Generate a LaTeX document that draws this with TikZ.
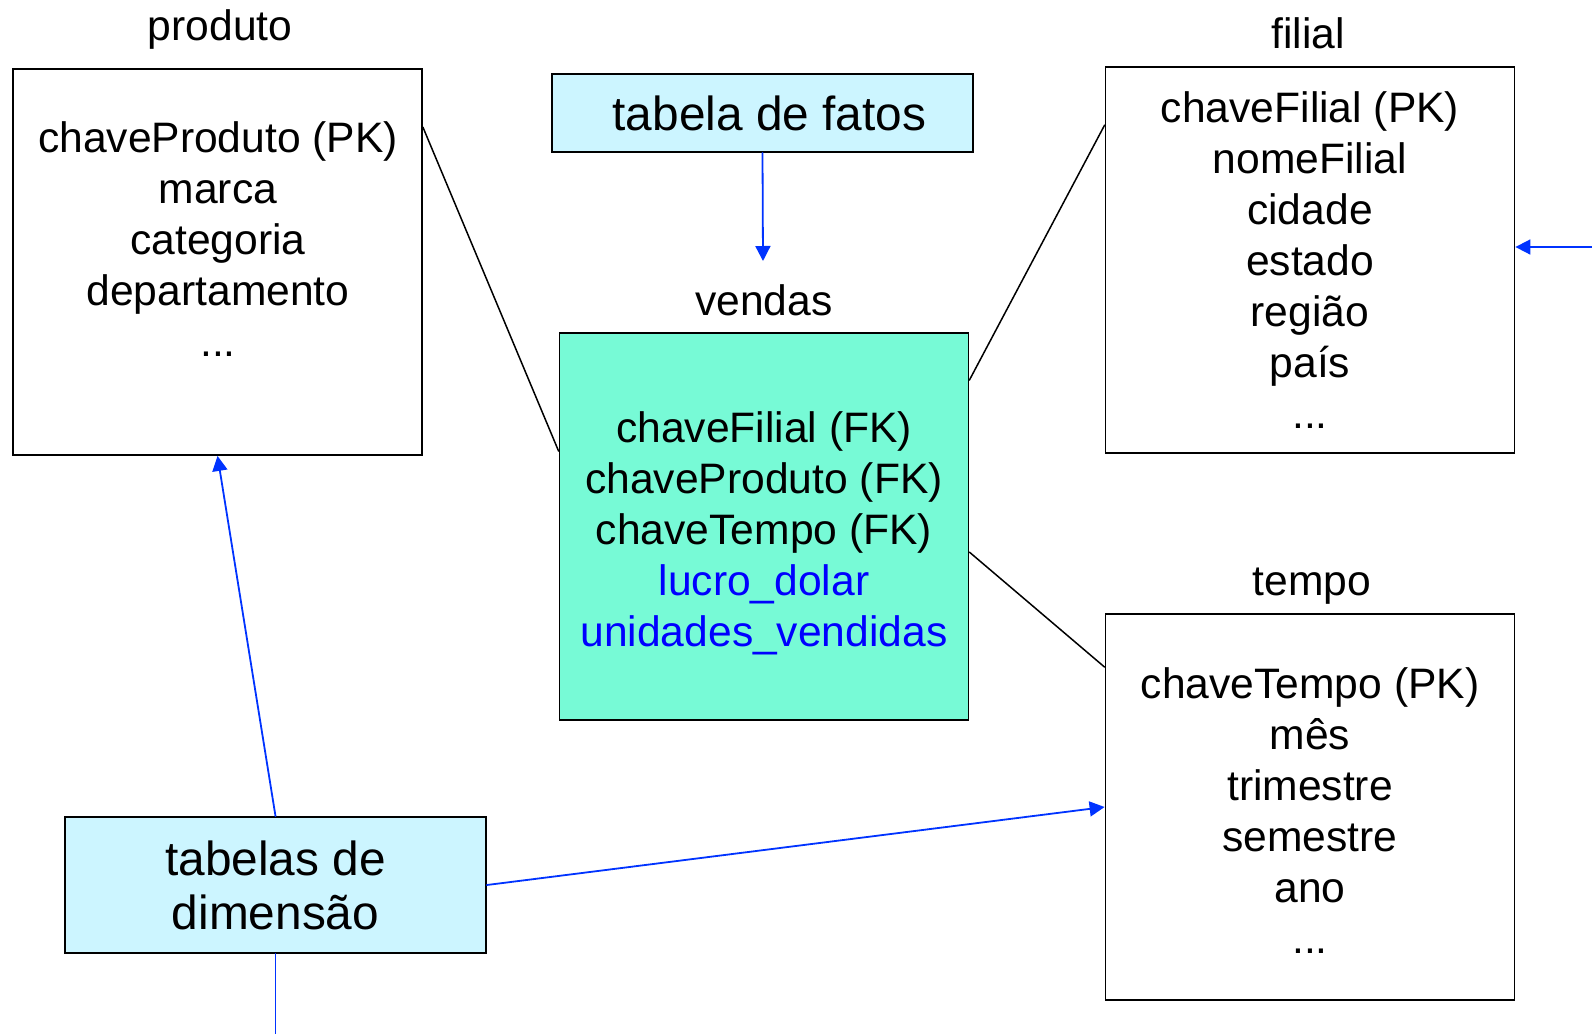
\documentclass[tikz,border=0pt]{standalone}
\usepackage{fontspec}
\setmainfont{Liberation Sans}
\usetikzlibrary{arrows.meta,calc}

\begin{document}
\begin{tikzpicture}[x=0.5pt,y=-0.5pt,line cap=round]
  % Colors
  \definecolor{notecyan}{RGB}{204,245,255}
  \definecolor{factgreen}{RGB}{119,250,214}
  \definecolor{linkblue}{RGB}{0,51,255}

  % Styles
  \tikzstyle{table box}=[draw,line width=0.9pt,inner sep=0pt,minimum width=204.5pt,minimum height=193pt]
  \tikzstyle{note box}=[draw,line width=0.9pt,fill=notecyan,inner sep=0pt,minimum width=210.5pt,
    font=\fontsize{23.9}{27}\selectfont,align=center]
  \tikzstyle{table title}=[font=\fontsize{21.3}{25.5}\selectfont]
  \tikzstyle{table text}=[font=\fontsize{21.3}{25.5}\selectfont,align=center,anchor=base,inner sep=0pt]
  \tikzstyle{plain link}=[line width=0.75pt]
  \tikzstyle{blue link}=[line width=0.9pt,draw=linkblue,-{Triangle[length=7.5pt,width=7.5pt]}]

  \useasboundingbox (0,0) rectangle (1592,1034);

  % The graphic (text blocks sit on the baseline of their last line)
  \node[table box] (produto) at (217.5,262) {};
  \node[table title] (produtoTitle) at (220,29) {produto};
  \node[table text] (produtoText) at (218,356)
    {chaveProduto (PK)\\marca\\categoria\\departamento\\...};

  \node[note box,minimum height=39pt] (fatos) at (762.5,113) {\hspace*{7pt}tabela de fatos};

  \node[table box,fill=factgreen,minimum height=193.5pt] (vendas) at (764,526.5) {};
  \node[table title] (vendasTitle) at (764,300) {vendas};
  \node[table text] (vendasText) at (764,646)
    {chaveFilial (FK)\\chaveProduto (FK)\\chaveTempo (FK)\\
     \textcolor{blue}{lucro\_dolar}\\\textcolor{blue}{unidades\_vendidas}};

  \node[table box] (filial) at (1310,260) {};
  \node[table title] (filialTitle) at (1308,33) {filial};
  \node[table text] (filialText) at (1310,428)
    {chaveFilial (PK)\\nomeFilial\\cidade\\estado\\região\\país\\...};

  \node[table box] (tempo) at (1310,807) {};
  \node[table title] (tempoTitle) at (1312,586) {tempo};
  \node[table text] (tempoText) at (1310,953)
    {chaveTempo (PK)\\mês\\trimestre\\semestre\\ano\\...};

  \node[note box,minimum height=68pt] (dim) at (275.5,885) {tabelas de\\dimensão};

  % Links between the tables
  \draw[plain link] ([yshift=-29.5pt]produto.north east) -- ([yshift=-59.5pt]vendas.north west);
  \draw[plain link] ([yshift=-29.5pt]filial.north west) -- ([yshift=-24pt]vendas.north east);
  \draw[plain link] ([yshift=-110pt]vendas.north east) -- ([yshift=-27pt]tempo.north west);

  % Blue pointers
  \coordinate (fatosTip) at (763,261);
  \coordinate (filialIn) at (1592,247);
  \coordinate (dimEnd) at (275.5,1034);
  \draw[blue link] (fatos.south) -- (fatosTip);
  \draw[blue link] (dim.north) -- (produto.south);
  \draw[blue link] (dim.east) -- (tempo.west);
  \draw[blue link] (filialIn) -- (filialIn -| filial.east);
  \draw[blue link,-] (dim.south) -- (dimEnd);
\end{tikzpicture}
\end{document}
